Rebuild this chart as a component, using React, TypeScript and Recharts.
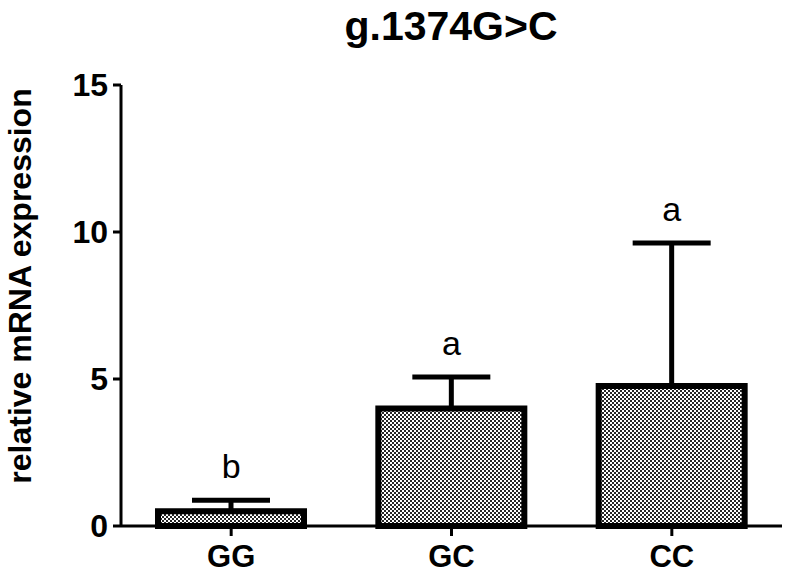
import React from "react";
import {
  Bar,
  ComposedChart,
  ErrorBar,
  LabelList,
  Line,
  XAxis,
  YAxis,
} from "recharts";

// ---- data ----
const genotypes = ["GG", "GC", "CC"];
const meanExpression = [0.5, 4.0, 4.76];
const sdExpression = [0.38, 1.07, 4.87];
const groupLetters = ["b", "a", "a"];
const yTicks = [0, 5, 10, 15];

const FONT = "'Liberation Sans', Arial, Helvetica, sans-serif";

const rows = genotypes.map((g, i) => ({
  genotype: g,
  mean: meanExpression[i],
  err: [0, sdExpression[i]],
  top: meanExpression[i] + sdExpression[i],
  letter: groupLetters[i],
}));

function LetterLabel(props: any) {
  const { x, y, value } = props;
  return (
    <text x={x} y={y - 22} textAnchor="middle" fontFamily={FONT} fontSize={34} fill="#000">
      {value}
    </text>
  );
}

export default function App() {
  return (
    <div style={{ position: "absolute", left: 0, top: 0, width: 788, height: 574, background: "#fff" }}>
      <ComposedChart
        width={788}
        height={574}
        data={rows}
        margin={{ top: 85, right: 6, left: 0, bottom: 0 }}
      >
        <defs>
          <pattern id="checker" width="4" height="4" patternUnits="userSpaceOnUse">
            <rect width="4" height="4" fill="#262626" />
            <rect x="0" y="0" width="2" height="2" fill="#ffffff" />
            <rect x="2" y="2" width="2" height="2" fill="#ffffff" />
          </pattern>
        </defs>
        <XAxis
          dataKey="genotype"
          height={48}
          tickSize={10}
          tickMargin={9}
          axisLine={{ stroke: "#000", strokeWidth: 3 }}
          tickLine={{ stroke: "#000", strokeWidth: 3 }}
          tick={{ fill: "#000", fontSize: 31, fontWeight: 700, fontFamily: FONT }}
        />
        <YAxis
          domain={[0, 15]}
          ticks={yTicks}
          width={121}
          tickSize={8}
          tickMargin={5}
          axisLine={{ stroke: "#000", strokeWidth: 3 }}
          tickLine={{ stroke: "#000", strokeWidth: 3 }}
          tick={{ fill: "#000", fontSize: 32, fontWeight: 700, fontFamily: FONT }}
        />
        <Bar
          dataKey="mean"
          barSize={146}
          fill="url(#checker)"
          stroke="#000"
          strokeWidth={6}
          isAnimationActive={false}
        >
          <ErrorBar dataKey="err" width={39} stroke="#000" strokeWidth={5} direction="y" />
        </Bar>
        <Line
          dataKey="top"
          stroke="none"
          dot={false}
          activeDot={false}
          isAnimationActive={false}
        >
          <LabelList dataKey="letter" content={<LetterLabel />} />
        </Line>
      </ComposedChart>
      <svg
        width={788}
        height={574}
        style={{ position: "absolute", left: 0, top: 0, pointerEvents: "none" }}
      >
        <text x={451} y={40} textAnchor="middle" fontFamily={FONT} fontSize={41} fontWeight={700} fill="#000">
          g.1374G&gt;C
        </text>
        <text
          x={31}
          y={286}
          transform="rotate(-90, 31, 286)"
          textAnchor="middle"
          fontFamily={FONT}
          fontSize={32}
          fontWeight={700}
          fill="#000"
        >
          relative mRNA expression
        </text>
      </svg>
    </div>
  );
}
